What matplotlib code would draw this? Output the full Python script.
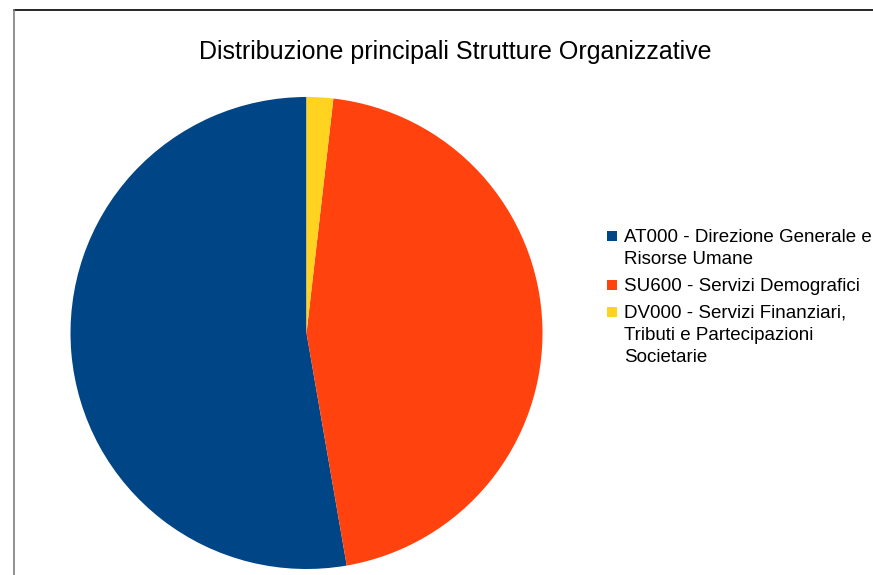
import matplotlib
matplotlib.use("Agg")
import matplotlib.pyplot as plt
from matplotlib.patches import Rectangle
from matplotlib.lines import Line2D

plt.rcParams['font.family'] = ['Liberation Sans', 'DejaVu Sans']

title = "Distribuzione principali Strutture Organizzative"
labels = ["AT000 - Direzione Generale e\nRisorse Umane",
          "SU600 - Servizi Demografici",
          "DV000 - Servizi Finanziari,\nTributi e Partecipazioni\nSocietarie"]
values = [29, 25, 1]
colors = ["#004586", "#ff420e", "#ffd320"]

W, H = 873, 575
fig = plt.figure(figsize=(W / 100, H / 100), dpi=100)
fig.patch.set_facecolor("white")

# frame lines (chart border, cropped at right/bottom)
fig.add_artist(Line2D([14 / W, 1.0], [1 - 10 / H, 1 - 10 / H], color="black", lw=1.2,
                      transform=fig.transFigure))
fig.add_artist(Line2D([14 / W, 14 / W], [0, 1 - 10 / H], color="#7f7f7f", lw=1.2,
                      transform=fig.transFigure))

cx, cy, r = 306.5, 333, 236
ax = fig.add_axes([(cx - r) / W, 1 - (cy + r) / H, 2 * r / W, 2 * r / H])
ax.pie(values, colors=colors, startangle=90, counterclock=True, radius=1,
       wedgeprops=dict(linewidth=0))
ax.set_xlim(-1, 1)
ax.set_ylim(-1, 1)
ax.set_aspect("equal")
ax.axis("off")

fig.text(455 / W, 1 - 52 / H, title, ha="center", va="center", fontsize=18, color="black")

# legend drawn manually so the marker aligns with the first line of each label
line_h = 22
item_gap = 5
baseline = 242
for lab, col in zip(labels, colors):
    fig.add_artist(Rectangle((607 / W, 1 - (baseline - 1) / H), 10 / W, 10 / H,
                             facecolor=col, edgecolor="none", transform=fig.transFigure))
    for i, ln in enumerate(lab.split("\n")):
        fig.text(624 / W, 1 - (baseline + i * line_h) / H, ln, ha="left", va="baseline",
                 fontsize=13.5, color="black")
    baseline += line_h * len(lab.split("\n")) + item_gap

fig.savefig("out.png", dpi=100)
